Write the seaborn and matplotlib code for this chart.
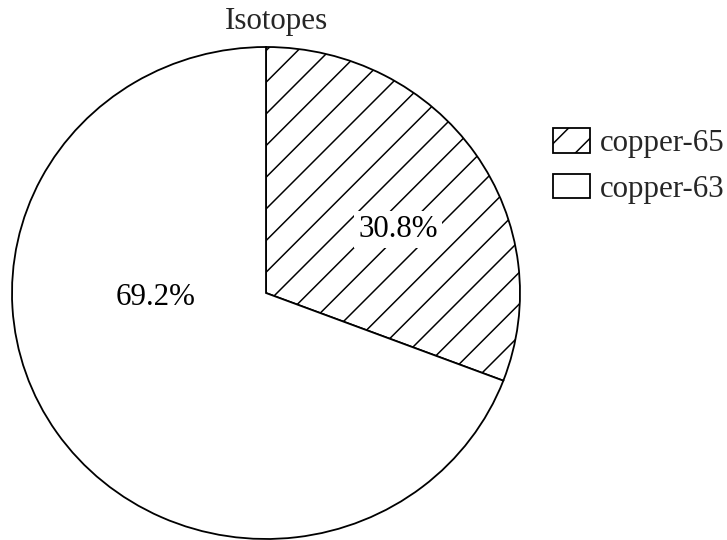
import matplotlib
matplotlib.use("Agg")
import matplotlib.pyplot as plt
import seaborn as sns

# Copper isotope abundance
isotopes = ["copper-65", "copper-63"]
percentages = [30.8, 69.2]
hatches = ["//", ""]
title = "Isotopes"

DPI = 190
W, H = 727, 540
PT = 72 / DPI          # one pixel expressed in points
FS = 31 * PT           # text size

sns.set_theme(style="white")
plt.rcParams["font.family"] = ["Liberation Serif", "DejaVu Serif"]
plt.rcParams["hatch.linewidth"] = 1.5 * PT
plt.rcParams["hatch.color"] = "black"

fig = plt.figure(figsize=(W / DPI, H / DPI), dpi=DPI)
fig.patch.set_facecolor("white")

# pie area in pixel terms: left, top, width, height
px_left, px_top, px_w, px_h = 12, 47, 508, 492
ax = fig.add_axes([px_left / W, 1 - (px_top + px_h) / H, px_w / W, px_h / H])

wedges, _, autotexts = ax.pie(
    percentages,
    startangle=90,
    counterclock=False,
    colors=["white", "white"],
    hatch=hatches,
    autopct="%.1f%%",
    pctdistance=0.58,
    wedgeprops=dict(edgecolor="black", linewidth=1.8 * PT),
    textprops=dict(fontsize=FS, color="black"),
)
for w in wedges:
    w.set_clip_on(False)

# label anchors inside each slice (axes data units); white backing keeps
# the hatch lines from running through the text
label_xy = [(0.52, 0.26), (-0.435, -0.02)]
for t, (x, y) in zip(autotexts, label_xy):
    t.set_position((x, y))
    t.set_ha("center")
    t.set_va("center")
    t.set_bbox(dict(facecolor="white", edgecolor="none", pad=1.5))

ax.set_xlim(-1, 1)
ax.set_ylim(-1, 1)
ax.set_aspect("auto")
ax.axis("off")

fig.text(276 / W, 1 - 21 / H, title, ha="center", va="center", fontsize=FS)

ax.legend(
    wedges,
    isotopes,
    loc="upper left",
    bbox_to_anchor=(553 / W, 1 - 128 / H),
    bbox_transform=fig.transFigure,
    frameon=False,
    fontsize=FS,
    handlelength=1.2,
    handleheight=0.85,
    handletextpad=0.3,
    labelspacing=0.5,
    borderpad=0,
    borderaxespad=0,
)

fig.savefig("out.png", dpi=DPI, facecolor="white")
